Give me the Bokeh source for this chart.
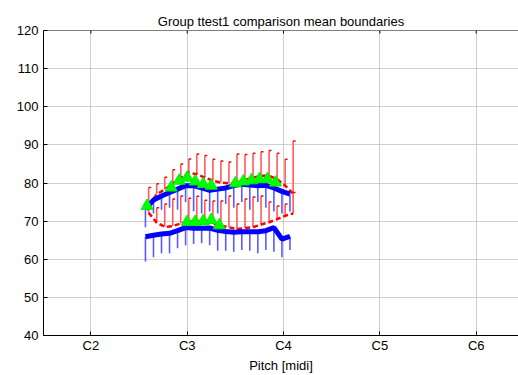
from bokeh.plotting import figure
from bokeh.models import FixedTicker, Range1d, Span
from bokeh.embed import file_html
from bokeh.resources import INLINE

# ---- data ----
midi = list(range(43, 62))  # 19 semitones, G2 .. C#4

# group 1 (blue): upper / lower mean boundaries with downward error
blue_upper = [73.2, 75.5, 76.6, 77.5, 78.4, 79.3, 79.3, 78.7, 78.1, 78.4,
              78.7, 79.3, 79.7, 79.5, 79.3, 79.4, 78.7, 77.8, 77.1]
blue_upper_low = [68.4, 72.0, 73.0, 73.5, 73.0, 75.0, 72.6, 72.0, 72.5, 72.0,
                  74.5, 73.5, 75.0, 73.0, 75.0, 73.5, 72.5, 72.0, 72.5]
blue_lower = [65.9, 66.3, 66.6, 66.8, 67.5, 68.3, 68.1, 68.1, 68.2, 67.6,
              67.3, 67.1, 67.2, 67.2, 67.2, 67.5, 68.3, 65.3, 66.0]
blue_lower_low = [59.4, 60.5, 61.6, 61.6, 62.9, 63.7, 64.0, 64.2, 63.7, 62.2,
                  62.2, 62.0, 62.4, 62.2, 61.6, 62.4, 62.0, 60.5, 62.4]

# group 2 (red): upper / lower mean boundaries with upward error
red_upper = [74.2, 77.0, 78.3, 79.8, 81.4, 82.7, 82.3, 81.4, 80.6, 80.1,
             79.9, 80.1, 80.8, 81.4, 81.9, 81.9, 81.0, 79.3, 77.2]
red_upper_high = [78.8, 79.8, 81.5, 83.5, 85.0, 86.3, 87.6, 87.2, 86.2, 85.8,
                  85.5, 87.6, 87.5, 87.8, 88.2, 88.5, 87.8, 86.2, 91.0]
red_lower = [72.2, 69.6, 68.5, 68.7, 69.4, 69.9, 70.1, 69.9, 69.4, 68.8,
             68.4, 67.9, 68.2, 68.4, 69.1, 69.7, 70.5, 71.4, 72.0]
red_lower_high = [75.0, 73.5, 74.5, 75.8, 76.6, 76.0, 76.5, 75.5, 75.3, 75.3,
                  76.6, 74.5, 75.8, 76.3, 76.6, 75.0, 74.0, 74.5, 77.5]

# significant differences (green triangles)
sig_upper_midi = [43, 46, 47, 48, 49, 50, 51, 54, 55, 56, 57, 58, 59]
sig_upper_y = [74.0, 78.8, 80.6, 81.4, 80.4, 79.7, 79.3, 79.9, 80.4, 80.7, 81.0, 81.0, 80.1]
sig_lower_midi = [48, 49, 50, 51, 52]
sig_lower_y = [69.8, 69.8, 70.0, 70.3, 68.9]

title_text = "Group ttest1 comparison mean boundaries"
x_ticks = [36, 48, 60, 72, 84]
x_labels = ["C2", "C3", "C4", "C5", "C6"]
y_ticks = list(range(40, 121, 10))
X_MIN, X_MAX = 30.1, 89.27
Y_MIN, Y_MAX = 40, 120

FONT = "Liberation Sans"
BLUE_SHIFT = -0.2
RED_SHIFT = 0.2

xb = [m + BLUE_SHIFT for m in midi]
xr = [m + RED_SHIFT for m in midi]

p = figure(width=518, height=375,
           x_range=Range1d(X_MIN, X_MAX), y_range=Range1d(Y_MIN, Y_MAX),
           output_backend="svg", toolbar_location=None,
           title=title_text,
           x_axis_label="Pitch [midi]",
           min_border_left=43, min_border_right=0,
           min_border_top=30, min_border_bottom=39)

p.background_fill_color = "white"
p.border_fill_color = "white"
p.outline_line_color = None

p.title.align = "center"
p.title.vertical_align = "top"
p.title.text_line_height = 1.8
p.title.text_font = FONT
p.title.text_font_size = "13px"
p.title.text_font_style = "normal"
p.title.text_color = "black"
p.title.standoff = 0

for ax in (p.xaxis[0], p.yaxis[0]):
    ax.major_tick_in = 4
    ax.major_tick_out = 0
    ax.minor_tick_line_color = None
    ax.axis_line_color = "black"
    ax.major_tick_line_color = "black"
    ax.major_label_text_font = FONT
    ax.major_label_text_font_size = "13px"
    ax.major_label_text_color = "black"

p.yaxis.major_label_standoff = 5
p.xaxis.major_label_standoff = 2
p.xaxis.ticker = FixedTicker(ticks=x_ticks)
p.xaxis.major_label_overrides = dict(zip(x_ticks, x_labels))
p.xaxis.axis_label_text_font = FONT
p.xaxis.axis_label_text_font_size = "13px"
p.xaxis.axis_label_text_font_style = "normal"
p.xaxis.axis_label_text_color = "black"
p.xaxis.axis_label_standoff = 2
p.yaxis.ticker = FixedTicker(ticks=y_ticks)

# top border of the box with small inward ticks
p.add_layout(Span(location=Y_MAX, dimension="width", line_color="black", line_width=1))
p.segment(x_ticks, [Y_MAX] * len(x_ticks), x_ticks, [Y_MAX - 0.8] * len(x_ticks),
          line_color="black", line_width=1)

p.xgrid.ticker = FixedTicker(ticks=x_ticks)
p.ygrid.ticker = FixedTicker(ticks=y_ticks)
for g in (p.xgrid[0], p.ygrid[0]):
    g.grid_line_color = "#a0a0a0"
    g.grid_line_dash = "1 1"
    g.grid_line_width = 1

# red group
p.segment(xr, red_upper, xr, red_upper_high, line_color="#ff5a5a", line_width=1.6)
p.segment(xr, red_lower, xr, red_lower_high, line_color="#ff5a5a", line_width=1.6)
cap = 0.3
p.segment(xr, red_upper_high, [x + cap for x in xr], red_upper_high, line_color="#ff0000", line_width=1.5)
p.segment(xr, red_lower_high, [x + cap for x in xr], red_lower_high, line_color="#ff0000", line_width=1.5)
p.line(xr, red_upper, line_color="#ff0000", line_width=2.5, line_dash="5 3")
p.line(xr, red_lower, line_color="#ff0000", line_width=2.5, line_dash="5 3")

# blue group
p.segment(xb, blue_upper, xb, blue_upper_low, line_color="#5a5aff", line_width=1.6)
p.segment(xb, blue_lower, xb, blue_lower_low, line_color="#5a5aff", line_width=1.6)
p.line(xb, blue_upper, line_color="#0000ff", line_width=5)
p.line(xb, blue_lower, line_color="#0000ff", line_width=5)

# significance markers
p.scatter(sig_upper_midi, sig_upper_y, marker="triangle", size=12,
          fill_color="#00ff00", line_color="#00ee00")
p.scatter(sig_lower_midi, sig_lower_y, marker="triangle", size=12,
          fill_color="#00ff00", line_color="#00ee00")

open("out.html", "w").write(file_html(p, INLINE))
